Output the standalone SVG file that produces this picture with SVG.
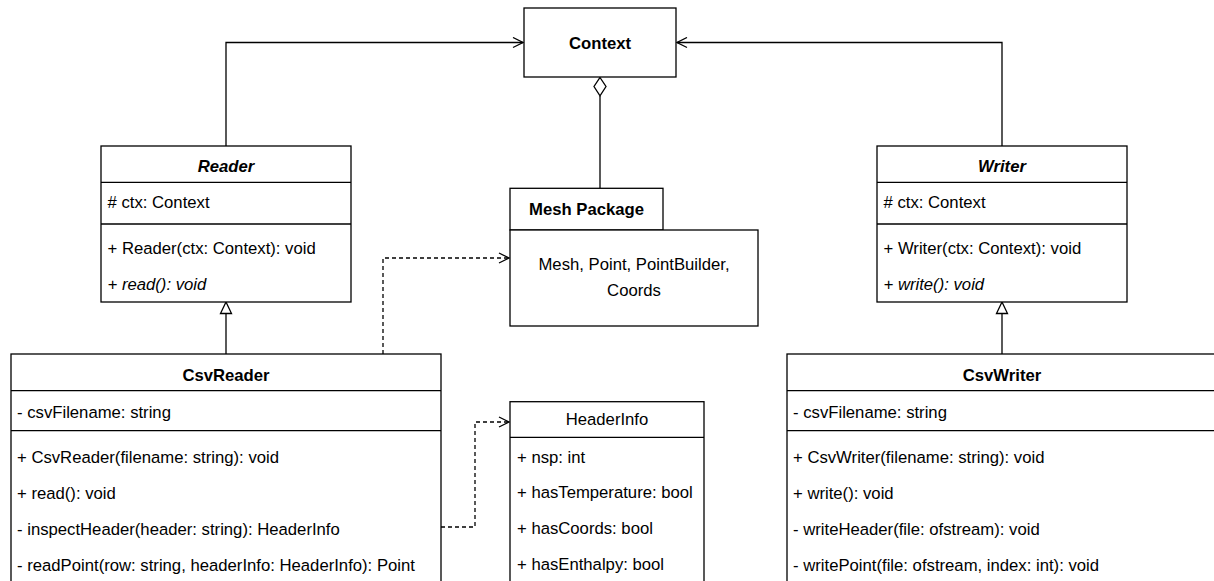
<svg xmlns="http://www.w3.org/2000/svg" width="1214" height="581" viewBox="0 0 1214 581">
  <style>
    .box { fill: #ffffff; stroke: #000000; stroke-width: 1.3; }
    .sep { stroke: #000000; stroke-width: 1.3; }
    .t { font-family: "Liberation Sans", Arial, sans-serif; font-size: 16.7px; fill: #000000; }
    .b { font-weight: bold; }
    .i { font-style: italic; }
    .c { text-anchor: middle; }
    .edge { fill: none; stroke: #000000; stroke-width: 1.3; }
    .dash { stroke-dasharray: 4 3; }
  </style>
  <defs>
    <marker id="open" viewBox="0 0 12 12" refX="11" refY="6" markerWidth="12" markerHeight="12" markerUnits="userSpaceOnUse" orient="auto">
      <path d="M1,1 L11,6 L1,11" fill="none" stroke="#000000" stroke-width="1.3"/>
    </marker>
  </defs>
  <rect width="1214" height="581" fill="#ffffff"/>

  <!-- connectors -->
  <g id="connectors">
    <path class="edge" d="M226,146 V42.5 H523" marker-end="url(#open)"/>
    <path class="edge" d="M1002,146 V42.5 H677" marker-end="url(#open)"/>
    <path class="edge" d="M600,96 V188"/>
    <path d="M600,77.5 L606,86.5 L600,95.8 L594,86.5 Z" fill="#ffffff" stroke="#000000" stroke-width="1.3"/>
    <path class="edge" d="M226,313.5 V354"/>
    <path d="M226,302 L231.5,313.5 L220.5,313.5 Z" fill="#ffffff" stroke="#000000" stroke-width="1.3"/>
    <path class="edge" d="M1002,313.5 V354"/>
    <path d="M1002,302 L1007.5,313.5 L996.5,313.5 Z" fill="#ffffff" stroke="#000000" stroke-width="1.3"/>
    <path class="edge dash" d="M383,354 V258 H509" marker-end="url(#open)"/>
    <path class="edge dash" d="M441,527 H475 V422 H509" marker-end="url(#open)"/>
  </g>

  <!-- Context -->
  <g id="context">
    <rect class="box" x="524" y="8" width="152" height="69"/>
    <text class="t b c" x="600" y="48.5">Context</text>
  </g>

  <!-- Reader -->
  <g id="reader">
    <rect class="box" x="101" y="146" width="250" height="156"/>
    <line class="sep" x1="101" y1="182.3" x2="351" y2="182.3"/>
    <line class="sep" x1="101" y1="224" x2="351" y2="224"/>
    <text class="t b i c" x="226" y="171.8">Reader</text>
    <text class="t" x="107.5" y="207.5"># ctx: Context</text>
    <text class="t" x="107.5" y="253.8">+ Reader(ctx: Context): void</text>
    <text class="t i" x="107.5" y="289.8">+ read(): void</text>
  </g>

  <!-- Writer -->
  <g id="writer">
    <rect class="box" x="877" y="146" width="250" height="156"/>
    <line class="sep" x1="877" y1="182.3" x2="1127" y2="182.3"/>
    <line class="sep" x1="877" y1="224" x2="1127" y2="224"/>
    <text class="t b i c" x="1002" y="171.8">Writer</text>
    <text class="t" x="883.5" y="207.5"># ctx: Context</text>
    <text class="t" x="883.5" y="253.8">+ Writer(ctx: Context): void</text>
    <text class="t i" x="883.5" y="289.8">+ write(): void</text>
  </g>

  <!-- Mesh Package -->
  <g id="mesh-package">
    <rect class="box" x="510" y="188.3" width="153" height="41.7"/>
    <rect class="box" x="510" y="230" width="248" height="96"/>
    <text class="t b c" x="586.5" y="215">Mesh Package</text>
    <text class="t c" x="634" y="270">Mesh, Point, PointBuilder,</text>
    <text class="t c" x="634" y="296">Coords</text>
  </g>

  <!-- CsvReader -->
  <g id="csv-reader">
    <rect class="box" x="11" y="354" width="430" height="260"/>
    <line class="sep" x1="11" y1="390.7" x2="441" y2="390.7"/>
    <line class="sep" x1="11" y1="430.7" x2="441" y2="430.7"/>
    <text class="t b c" x="226" y="381">CsvReader</text>
    <text class="t" x="17" y="417.5">- csvFilename: string</text>
    <text class="t" x="17" y="463.1">+ CsvReader(filename: string): void</text>
    <text class="t" x="17" y="499.1">+ read(): void</text>
    <text class="t" x="17" y="535.1">- inspectHeader(header: string): HeaderInfo</text>
    <text class="t" x="17" y="570.8">- readPoint(row: string, headerInfo: HeaderInfo): Point</text>
  </g>

  <!-- HeaderInfo -->
  <g id="header-info">
    <rect class="box" x="510" y="401.7" width="194" height="210"/>
    <line class="sep" x1="510" y1="437.3" x2="704" y2="437.3"/>
    <text class="t c" x="607" y="425">HeaderInfo</text>
    <text class="t" x="517" y="462.5">+ nsp: int</text>
    <text class="t" x="517" y="498.1">+ hasTemperature: bool</text>
    <text class="t" x="517" y="533.5">+ hasCoords: bool</text>
    <text class="t" x="517" y="570.1">+ hasEnthalpy: bool</text>
  </g>

  <!-- CsvWriter -->
  <g id="csv-writer">
    <rect class="box" x="787" y="354" width="430" height="260"/>
    <line class="sep" x1="787" y1="390.7" x2="1217" y2="390.7"/>
    <line class="sep" x1="787" y1="430.7" x2="1217" y2="430.7"/>
    <text class="t b c" x="1002" y="381">CsvWriter</text>
    <text class="t" x="793" y="417.5">- csvFilename: string</text>
    <text class="t" x="793" y="463.1">+ CsvWriter(filename: string): void</text>
    <text class="t" x="793" y="499.1">+ write(): void</text>
    <text class="t" x="793" y="535.1">- writeHeader(file: ofstream): void</text>
    <text class="t" x="793" y="570.8">- writePoint(file: ofstream, index: int): void</text>
  </g>
</svg>
